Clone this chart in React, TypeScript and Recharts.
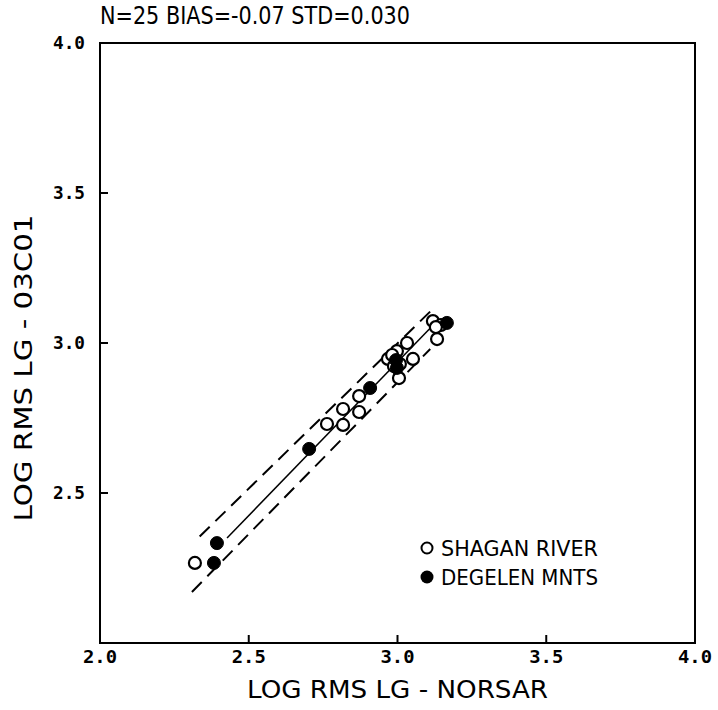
import React from 'react';
import { ScatterChart, Scatter, XAxis, YAxis, ReferenceLine, ReferenceArea, Legend } from 'recharts';

const titleText = 'N=25 BIAS=-0.07 STD=0.030';
const xLabel = 'LOG RMS LG - NORSAR';
const yLabel = 'LOG RMS LG - 03C01';
const axisTicks = [2.0, 2.5, 3.0, 3.5, 4.0];

const shaganRiver = [
  { x: 2.319, y: 2.267 },
  { x: 2.763, y: 2.730 },
  { x: 2.817, y: 2.780 },
  { x: 2.817, y: 2.727 },
  { x: 2.871, y: 2.823 },
  { x: 2.871, y: 2.770 },
  { x: 2.968, y: 2.947 },
  { x: 2.998, y: 2.973 },
  { x: 3.005, y: 2.883 },
  { x: 3.032, y: 3.000 },
  { x: 3.052, y: 2.947 },
  { x: 2.988, y: 2.923 },
  { x: 3.008, y: 2.930 },
  { x: 3.119, y: 3.073 },
  { x: 3.133, y: 3.013 },
  { x: 3.146, y: 3.060 },
  { x: 3.129, y: 3.053 },
  { x: 2.982, y: 2.960 },
];

const degelenMnts = [
  { x: 2.383, y: 2.267 },
  { x: 2.393, y: 2.333 },
  { x: 2.703, y: 2.647 },
  { x: 2.908, y: 2.850 },
  { x: 2.998, y: 2.917 },
  { x: 2.995, y: 2.943 },
  { x: 3.166, y: 3.067 },
];

const fitLine = [{ x: 2.427, y: 2.35 }, { x: 3.13, y: 3.07 }];
const upperBand = [{ x: 2.335, y: 2.355 }, { x: 3.11, y: 3.105 }];
const lowerBand = [{ x: 2.309, y: 2.17 }, { x: 3.11, y: 2.98 }];

const SANS = '"DejaVu Sans", "Liberation Sans", sans-serif';
const MONO = '"DejaVu Sans Mono", "Liberation Mono", monospace';

const OpenDot = (p: any) => (
  <circle cx={p.cx} cy={p.cy} r={6} fill="#fff" stroke="#000" strokeWidth={2.2} />
);
const FilledDot = (p: any) => (
  <circle cx={p.cx} cy={p.cy} r={6.5} fill="#000" stroke="#000" strokeWidth={1} />
);

const XTick = (p: any) => (
  <text x={p.x} y={p.y} textAnchor="middle" fontFamily={MONO} fontWeight="bold" fontSize={18}
    textLength={34} lengthAdjust="spacingAndGlyphs" fill="#000">
    {Number(p.payload.value).toFixed(1)}
  </text>
);
const YTick = (p: any) => {
  const v = Number(p.payload.value);
  if (v === 2.0) return <g />;
  return (
    <text x={p.x} y={p.y + 6} textAnchor="end" fontFamily={MONO} fontWeight="bold" fontSize={18}
      textLength={32} lengthAdjust="spacingAndGlyphs" fill="#000">
      {v.toFixed(1)}
    </text>
  );
};

const LegendBox = () => (
  <svg width={200} height={56}>
    <circle cx={7} cy={10} r={5.5} fill="#fff" stroke="#000" strokeWidth={2} />
    <text x={21} y={18} fontFamily={SANS} fontSize={21} textLength={157} lengthAdjust="spacingAndGlyphs" fill="#000">SHAGAN RIVER</text>
    <circle cx={7} cy={39} r={6.5} fill="#000" />
    <text x={21} y={47} fontFamily={SANS} fontSize={21} textLength={157} lengthAdjust="spacingAndGlyphs" fill="#000">DEGELEN MNTS</text>
  </svg>
);

export default function App() {
  return (
    <div style={{ position: 'absolute', left: 0, top: 0, width: 718, height: 710, background: '#fff' }}>
      <ScatterChart width={718} height={710} margin={{ top: 43, right: 23, bottom: 0, left: 0 }}>
        <XAxis
          type="number"
          dataKey="x"
          domain={[2, 4]}
          ticks={axisTicks}
          allowDataOverflow
          height={67}
          tickSize={-8}
          tickMargin={28}
          tick={<XTick />}
          axisLine={{ stroke: '#000', strokeWidth: 2 }}
          tickLine={{ stroke: '#000', strokeWidth: 2 }}
          label={{
            content: (lp: any) => {
              const vb = lp.viewBox;
              return (
                <text x={vb.x + vb.width / 2} y={vb.y + 55} textAnchor="middle" fontFamily={SANS}
                  fontSize={24} textLength={301} lengthAdjust="spacingAndGlyphs" fill="#000">
                  {xLabel}
                </text>
              );
            },
          }}
        />
        <YAxis
          type="number"
          dataKey="y"
          domain={[2, 4]}
          ticks={axisTicks}
          allowDataOverflow
          width={100}
          tickSize={-8}
          tickMargin={23}
          tick={<YTick />}
          axisLine={{ stroke: '#000', strokeWidth: 2 }}
          tickLine={{ stroke: '#000', strokeWidth: 2 }}
          label={{
            content: () => (
              <text x={32} y={368} transform="rotate(-90 32 368)" textAnchor="middle" fontFamily={SANS}
                fontSize={24} textLength={307} lengthAdjust="spacingAndGlyphs" fill="#000">
                {yLabel}
              </text>
            ),
          }}
        />
        <ReferenceArea
          x1={2}
          x2={4}
          y1={2}
          y2={4}
          fill="none"
          fillOpacity={0}
          stroke="#000"
          strokeWidth={2}
          ifOverflow="visible"
          label={{
            content: (lp: any) => {
              const vb = lp.viewBox;
              return (
                <text x={vb.x} y={vb.y - 19} fontFamily={SANS} fontSize={25} textLength={310}
                  lengthAdjust="spacingAndGlyphs" fill="#000">
                  {titleText}
                </text>
              );
            },
          }}
        />
        <ReferenceLine segment={upperBand} stroke="#000" strokeWidth={2} strokeDasharray="14 8" ifOverflow="visible" />
        <ReferenceLine segment={lowerBand} stroke="#000" strokeWidth={2} strokeDasharray="14 8" ifOverflow="visible" />
        <ReferenceLine segment={fitLine} stroke="#000" strokeWidth={1.5} ifOverflow="visible" />
        <Scatter name="SHAGAN RIVER" data={shaganRiver} shape={OpenDot} isAnimationActive={false} />
        <Scatter name="DEGELEN MNTS" data={degelenMnts} shape={FilledDot} isAnimationActive={false} />
        <Legend
          layout="horizontal"
          verticalAlign="middle"
          align="center"
          content={<LegendBox />}
          wrapperStyle={{ position: 'absolute', left: 420, top: 538, width: 200, height: 56 }}
        />
      </ScatterChart>
    </div>
  );
}
